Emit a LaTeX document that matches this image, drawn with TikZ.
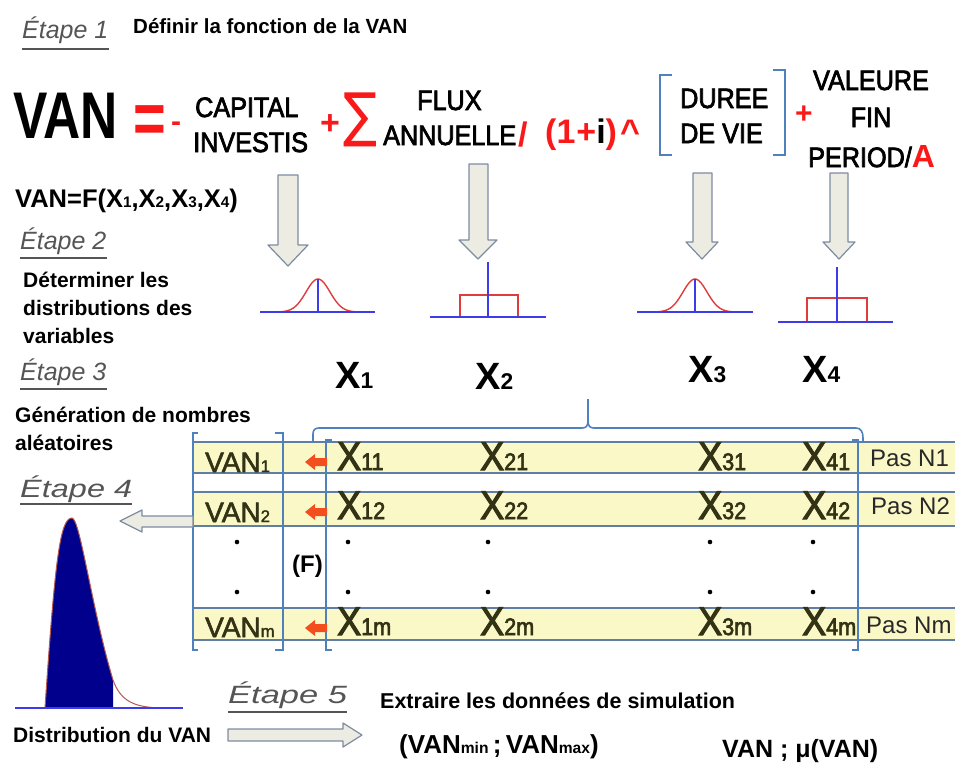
\documentclass[tikz,border=0pt]{standalone}
\usepackage{fontspec}
\usepackage{graphicx}
\setmainfont{Liberation Sans}
\newfontfamily\narrowf[FakeStretch=0.9,FakeBold=2.6]{Liberation Sans}
\newfontfamily\rowf[FakeBold=2]{Liberation Sans}
\newfontfamily\dejavu{DejaVu Sans}
\definecolor{fred}{RGB}{250,25,25}
\definecolor{bblue}{RGB}{79,129,189}
\definecolor{rowfill}{RGB}{251,248,200}
\definecolor{rowline}{RGB}{95,125,165}
\definecolor{rowtext}{RGB}{50,50,20}
\definecolor{pasgray}{RGB}{40,40,40}
\definecolor{arrfill}{RGB}{236,236,226}
\definecolor{arrline}{RGB}{125,140,162}
\definecolor{etgray}{RGB}{85,85,85}
\definecolor{navyfill}{RGB}{0,0,140}
\definecolor{curvered}{RGB}{225,60,60}
\definecolor{brownline}{RGB}{180,90,80}
\definecolor{axisblue}{RGB}{60,60,235}
\definecolor{orangered}{RGB}{242,78,30}
\newcommand\fs[1]{\fontsize{#1}{#1}\selectfont}
\newcommand\sbs[1]{\scalebox{0.6}{#1}}
\begin{document}
\begin{tikzpicture}[x=1pt,y=-1pt,
 txt/.style={inner sep=0pt, anchor=base west},
 ctxt/.style={inner sep=0pt, anchor=base},
 etape/.style={txt, font=\fs{25}\itshape, text=etgray},
 etline/.style={draw=etgray, line width=1.8pt},
 ftxt/.style={txt, font=\narrowf\fs{28}},
 fctxt/.style={ctxt, font=\narrowf\fs{28}},
 redsym/.style={txt, text=fred, font=\bfseries},
 body/.style={txt, font=\bfseries\fs{21}},
 blockarrow/.style={draw=arrline, fill=arrfill, line width=1.2pt, line join=round},
 bracketline/.style={draw=bblue, line width=2.2pt},
 braceline/.style={draw=bblue, line width=1.6pt},
 rowband/.style={draw=rowline, fill=rowfill, line width=1.2pt},
 vantxt/.style={txt, font=\rowf\fs{28}, text=rowtext},
 xtxt/.style={txt, font=\narrowf\fs{40}, text=rowtext},
 pastxt/.style={txt, font=\fs{24}, text=pasgray},
 axisline/.style={draw=axisblue, line width=1.8pt},
 dcurve/.style={draw=curvered, line width=1.4pt},
 redarr/.pic={\fill[orangered] (0,0) -- (10,-8) -- (10,-4) -- (22,-4) -- (22,4) -- (10,4) -- (10,8) -- cycle;},
]
\useasboundingbox[fill=white] (0,0) rectangle (955,764);

% ---------- Etape 1 ----------
\node[etape] (e1) at (22,38) {Étape 1};
\draw[etline] ([yshift=-11pt]e1.base west) -- ([yshift=-11pt]e1.base east);
\node[body, font=\bfseries\fs{20.5}] (def) at (133,33) {Définir la fonction de la VAN};

% formula
\node[txt, font=\bfseries\fs{66}] (vanbig) at (13,138) {\scalebox{0.78}[1]{VAN}};
\node[redsym, font=\bfseries\fs{56}] (eq) at (133,143) {\scalebox{1}[1.3]{=}};
\node[redsym, font=\bfseries\fs{30}] (minus) at (171,131) {-};
\node[ftxt] (capital) at (195,117) {CAPITAL};
\node[ftxt] (investis) at (193,152) {INVESTIS};
\node[redsym, font=\bfseries\fs{34}] (plus1) at (320,134) {+};
\node[inner sep=0pt, anchor=north west, text=fred] (sigma) at (343,93) {\resizebox*{34pt}{54pt}{\dejavu ∑}};
\node[ftxt] (flux) at (417,110) {FLUX};
\node[ftxt] (annuelle) at (383,145) {ANNUELLE};
\node[redsym, font=\bfseries\fs{34}] (slash) at (518,146) {/};
\node[txt, font=\bfseries\fs{34}] (paren) at (545,143) {\textcolor{fred}{(1\kern1pt+}i\textcolor{fred}{)\kern3pt\textasciicircum}};
\draw[bracketline] (672,75) -- (660,75) -- (660,155) -- (672,155);
\draw[bracketline] (773,70) -- (785,70) -- (785,155) -- (773,155);
\node[ftxt] (duree) at (680,108) {DUREE};
\node[ftxt] (devie) at (680,143) {DE VIE};
\node[redsym, font=\bfseries\fs{30}] (plus2) at (795,123) {+};
\node[fctxt] (valeure) at (871,90) {VALEURE};
\node[fctxt] (fin) at (871,127) {FIN};
\node[txt] (period) at (808,167) {\narrowf\fs{28}PERIOD/\normalfont\bfseries\fs{32}\textcolor{fred}{A}};

\node[txt, font=\bfseries\fs{25.5}] (vanf) at (15,207) {VAN=F(X\sbs{1},X\sbs{2},X\sbs{3},X\sbs{4})};

% ---------- down arrows ----------
\draw[blockarrow] (278,175) -- (298,175) -- (298,245) -- (308,245) -- (288,266) -- (268,245) -- (278,245) -- cycle;
\draw[blockarrow] (469,164) -- (488,164) -- (488,240) -- (497,240) -- (478,259) -- (459,240) -- (469,240) -- cycle;
\draw[blockarrow] (693,173) -- (712,173) -- (712,242) -- (718,242) -- (702,259) -- (686,242) -- (693,242) -- cycle;
\draw[blockarrow] (830,173) -- (848,173) -- (848,242) -- (855,242) -- (839,259) -- (823,242) -- (830,242) -- cycle;

% ---------- Etape 2 ----------
\node[etape] (e2) at (20,249) {Étape 2};
\draw[etline] ([yshift=-9pt]e2.base west) -- ([yshift=-9pt]e2.base east);
\node[body] (det1) at (23,287) {Déterminer les};
\node[body] (det2) at (23,315) {distributions des};
\node[body] (det3) at (23,343) {variables};

% distributions
\draw[dcurve] plot[domain=-42:42, samples=50] ({318+\x},{312-33*exp(-(\x*\x)/(2*12*12))});
\draw[axisline] (260,312) -- (375,312);
\draw[axisline] (318,279) -- (318,313);

\draw[dcurve] (460,317) -- (460,295) -- (518,295) -- (518,317);
\draw[axisline] (430,317) -- (546,317);
\draw[axisline] (488,262) -- (488,318);

\draw[dcurve] plot[domain=-42:42, samples=50] ({695+\x},{312-33*exp(-(\x*\x)/(2*12*12))});
\draw[axisline] (637,312) -- (753,312);
\draw[axisline] (695,279) -- (695,313);

\draw[dcurve] (807,322) -- (807,298) -- (867,298) -- (867,322);
\draw[axisline] (778,322) -- (893,322);
\draw[axisline] (837,267) -- (837,323);

\node[txt, font=\bfseries\fs{38}] (x1) at (335,388) {X\sbs{1}};
\node[txt, font=\bfseries\fs{38}] (x2) at (475,389) {X\sbs{2}};
\node[txt, font=\bfseries\fs{38}] (x3) at (688,382) {X\sbs{3}};
\node[txt, font=\bfseries\fs{38}] (x4) at (802,382) {X\sbs{4}};

% ---------- Etape 3 ----------
\node[etape] (e3) at (20,380) {Étape 3};
\draw[etline] ([yshift=-9pt]e3.base west) -- ([yshift=-9pt]e3.base east);
\node[body] (gen1) at (15,422) {Génération de nombres};
\node[body] (gen2) at (15,450) {aléatoires};

% brace
\draw[braceline] (313,457) -- (313,434) .. controls (313,430) and (315,428) .. (319,428) -- (582,428)
  .. controls (586,428) and (588,426) .. (588,421) -- (588,399);
\draw[braceline] (588,421) .. controls (588,426) and (590,428) .. (594,428) -- (856,428)
  .. controls (861,428) and (863,432) .. (863,438) -- (863,457);

% rows
\foreach \t/\b in {442/473, 492/526, 608/640}
  \draw[rowband] (962,\t) -- (193,\t) -- (193,\b) -- (962,\b);

% brackets
\draw[bracketline] (198,433) -- (193,433) -- (193,650) -- (198,650);
\draw[bracketline] (275,433) -- (283,433) -- (283,650) -- (275,650);
\draw[bracketline] (332,440) -- (326,440) -- (326,650) -- (332,650);
\draw[bracketline] (852,440) -- (858,440) -- (858,650) -- (852,650);

% red arrows
\pic at (305,462) {redarr};
\pic at (305,512) {redarr};
\pic at (305,628) {redarr};

% row texts
\node[vantxt] (van1) at (205,472) {VAN\sbs{1}};
\node[vantxt] (van2) at (205,522) {VAN\sbs{2}};
\node[vantxt] (vanm) at (205,637) {VAN\sbs{m}};
\node[xtxt] (x11) at (337,470) {X\sbs{11}};
\node[xtxt] (x21) at (480,470) {X\sbs{21}};
\node[xtxt] (x31) at (698,470) {X\sbs{31}};
\node[xtxt] (x41) at (802,470) {X\sbs{41}};
\node[xtxt] (x12) at (337,519) {X\sbs{12}};
\node[xtxt] (x22) at (480,519) {X\sbs{22}};
\node[xtxt] (x32) at (698,519) {X\sbs{32}};
\node[xtxt] (x42) at (802,519) {X\sbs{42}};
\node[xtxt] (x1m) at (337,635) {X\sbs{1m}};
\node[xtxt] (x2m) at (480,635) {X\sbs{2m}};
\node[xtxt] (x3m) at (698,635) {X\sbs{3m}};
\node[xtxt] (x4m) at (802,635) {X\sbs{4m}};
\node[pastxt] (pas1) at (870,466) {Pas N1};
\node[pastxt] (pas2) at (871,514) {Pas N2};
\node[pastxt] (pasm) at (866,633) {Pas Nm};

% dots
\foreach \x in {237,348,488,710,813}
  \foreach \y in {542,592}
    \fill (\x,\y) circle (2.3pt);
\node[txt, font=\bfseries\fs{24}] (fnode) at (292,572) {(F)};

% ---------- Etape 4 ----------
\node[etape] (e4) at (20,497) {\scalebox{1.3}[1]{Étape 4}};
\draw[etline] ([yshift=-7pt]e4.base west) -- ([yshift=-7pt]e4.base east);
\draw[blockarrow] (120,521) -- (142,510) -- (142,516) -- (193,516) -- (193,527) -- (142,527) -- (142,532) -- cycle;

% skewed distribution
\fill[navyfill] (45,708) .. controls (55,560) and (60,518) .. (72,518) .. controls (80,518) and (92,610) .. (113,680) -- (113,708) -- cycle;
\draw[brownline, line width=1pt] (45,708) .. controls (55,560) and (60,518) .. (72,518) .. controls (80,518) and (92,610) .. (113,680) .. controls (121,702) and (135,707) .. (160,708);
\draw[axisline] (15,708) -- (183,708);

\node[body] (distvan) at (13,742) {Distribution du VAN};

% ---------- Etape 5 ----------
\node[etape] (e5) at (228,703) {\scalebox{1.38}[1]{Étape 5}};
\draw[etline] ([yshift=-9pt]e5.base west) -- ([yshift=-9pt]e5.base east);
\draw[blockarrow] (362,735) -- (343,723) -- (343,729) -- (228,729) -- (228,741) -- (343,741) -- (343,747) -- cycle;
\node[body, font=\bfseries\fs{21.5}] (extr) at (380,708) {Extraire les données de simulation};
\node[txt, font=\bfseries\fs{26}] (minmax) at (399,753) {(VAN\sbs{min}\,;\,VAN\sbs{max})};
\node[txt, font=\bfseries\fs{25}] (mu) at (722,757) {VAN ; μ(VAN)};
\end{tikzpicture}
\end{document}
